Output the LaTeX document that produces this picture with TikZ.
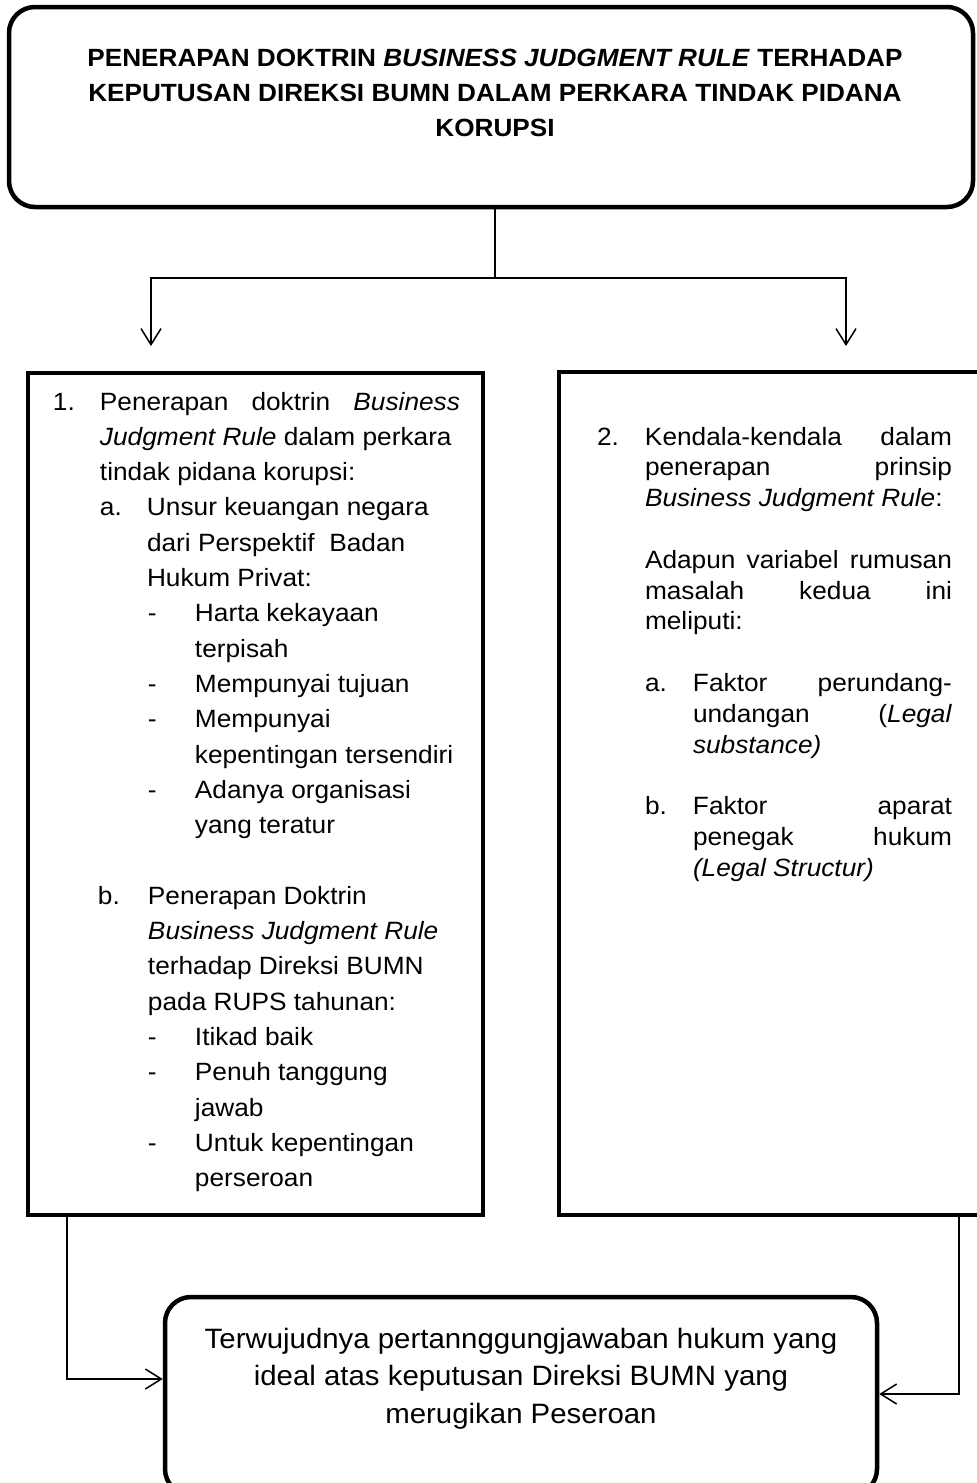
\documentclass[tikz,border=0pt]{standalone}
\usepackage{fontspec}
\setmainfont{Liberation Sans}[FakeStretch=1.05]
\usetikzlibrary{arrows.meta}
\newdimen\upx \upx=0.5pt
\newcommand\bodyfont{\fontsize{12.5}{14}\selectfont}
\newcommand\ttlfont{\bfseries\fontsize{12.45}{14}\selectfont}
\newcommand\botfont{\fontsize{14}{16}\selectfont}
\newcommand\lab[2]{\hbox to #1\upx{#2\hss}}
\tikzset{
  box/.style={draw=black, line width=2.25pt, inner sep=0pt, fill=white},
  rbox/.style={box, rounded corners=13pt},
  conn/.style={draw=black, line width=0.75pt},
  txt/.style={inner sep=0pt, outer sep=0pt},
  >={Straight Barb[length=8pt,width=10pt,line width=0.75pt]}
}
\begin{document}
\begin{tikzpicture}[x=0.5pt,y=-0.5pt]
\fill[white] (0,0) rectangle (977,1483);
\useasboundingbox (0,0) rectangle (977,1483);

% boxes
\node[rbox, minimum width=964\upx, minimum height=200\upx] (top) at (491,107) {};
\node[box, minimum width=455\upx, minimum height=842\upx] (lbox) at (255.5,794) {};
\node[box, minimum width=441\upx, minimum height=843\upx] (rbox) at (779.5,793.5) {};
\node[rbox, minimum width=712\upx, minimum height=198\upx] (bot) at (521,1396) {};

% title text
\node[txt, anchor=base, font=\ttlfont] (ttl) at (495,66) {\vtop{\baselineskip=35\upx\lineskiplimit=-100pt
\hbox to 822\upx{\hss PENERAPAN DOKTRIN \textit{BUSINESS JUDGMENT RULE} TERHADAP\hss}
\hbox to 822\upx{\hss KEPUTUSAN DIREKSI BUMN DALAM PERKARA TINDAK PIDANA\hss}
\hbox to 822\upx{\hss KORUPSI\hss}}};

% left text
\node[txt, anchor=base west, font=\bodyfont] (ltxt) at (53,410) {\vtop{\baselineskip=35.3\upx\lineskiplimit=-100pt
\hbox{\lab{47}{1.}\hbox to 360\upx{Penerapan\hfill doktrin\hfill\textit{Business}}}
\hbox{\kern47\upx\textit{Judgment Rule} dalam perkara}
\hbox{\kern47\upx tindak pidana korupsi:}
\hbox{\kern47\upx\lab{47}{a.}Unsur keuangan negara}
\hbox{\kern94\upx dari Perspektif\ \ Badan}
\hbox{\kern94\upx Hukum Privat:}
\hbox{\kern95\upx\lab{47}{-}Harta kekayaan}
\hbox{\kern142\upx terpisah}
\hbox{\kern95\upx\lab{47}{-}Mempunyai tujuan}
\hbox{\kern95\upx\lab{47}{-}Mempunyai}
\hbox{\kern142\upx kepentingan tersendiri}
\hbox{\kern95\upx\lab{47}{-}Adanya organisasi}
\hbox{\kern142\upx yang teratur}
\hbox{}
\hbox{\kern45\upx\lab{50}{b.}Penerapan Doktrin}
\hbox{\kern95\upx\textit{Business Judgment Rule}}
\hbox{\kern95\upx terhadap Direksi BUMN}
\hbox{\kern95\upx pada RUPS tahunan:}
\hbox{\kern95\upx\lab{47}{-}Itikad baik}
\hbox{\kern95\upx\lab{47}{-}Penuh tanggung}
\hbox{\kern142\upx jawab}
\hbox{\kern95\upx\lab{47}{-}Untuk kepentingan}
\hbox{\kern142\upx perseroan}}};

% right text
\node[txt, anchor=base west, font=\bodyfont] (rtxt) at (597,445) {\vtop{\baselineskip=30.8\upx\lineskiplimit=-100pt
\hbox{\lab{48}{2.}\hbox to 307\upx{Kendala-kendala\hfill dalam}}
\hbox{\kern48\upx\hbox to 307\upx{penerapan\hfill prinsip}}
\hbox{\kern48\upx\textit{Business Judgment Rule}:}
\hbox{}
\hbox{\kern48\upx\hbox to 307\upx{Adapun\hfill variabel\hfill rumusan}}
\hbox{\kern48\upx\hbox to 307\upx{masalah\hfill kedua\hfill ini}}
\hbox{\kern48\upx meliputi:}
\hbox{}
\hbox{\kern48\upx\lab{48}{a.}\hbox to 259\upx{Faktor\hfill perundang-}}
\hbox{\kern96\upx\hbox to 259\upx{undangan\hfill(\textit{Legal}}}
\hbox{\kern96\upx\textit{substance)}}
\hbox{}
\hbox{\kern48\upx\lab{48}{b.}\hbox to 259\upx{Faktor\hfill aparat}}
\hbox{\kern96\upx\hbox to 259\upx{penegak\hfill hukum}}
\hbox{\kern96\upx\textit{(Legal Structur)}}}};

% bottom text
\node[txt, anchor=base, font=\botfont] (btxt) at (521,1348) {\vtop{\baselineskip=37.5\upx\lineskiplimit=-100pt
\hbox to 700\upx{\hss Terwujudnya pertannggungjawaban hukum yang\hss}
\hbox to 700\upx{\hss ideal atas keputusan Direksi BUMN yang\hss}
\hbox to 700\upx{\hss merugikan Peseroan\hss}}};

% connectors
\coordinate (split) at (495,278);
\coordinate (aL) at (151,346);
\coordinate (aR) at (846,346);
\coordinate (cL) at (67,1379);
\coordinate (cR) at (959,1394);
\draw[conn] (top.south -| split) -- (split);
\draw[conn,->] (split) -| (aL);
\draw[conn,->] (split) -| (aR);
\draw[conn,->] (lbox.south -| cL) |- (bot.west |- cL);
\draw[conn,->] (rbox.south -| cR) |- (bot.east |- cR);
\end{tikzpicture}
\end{document}
